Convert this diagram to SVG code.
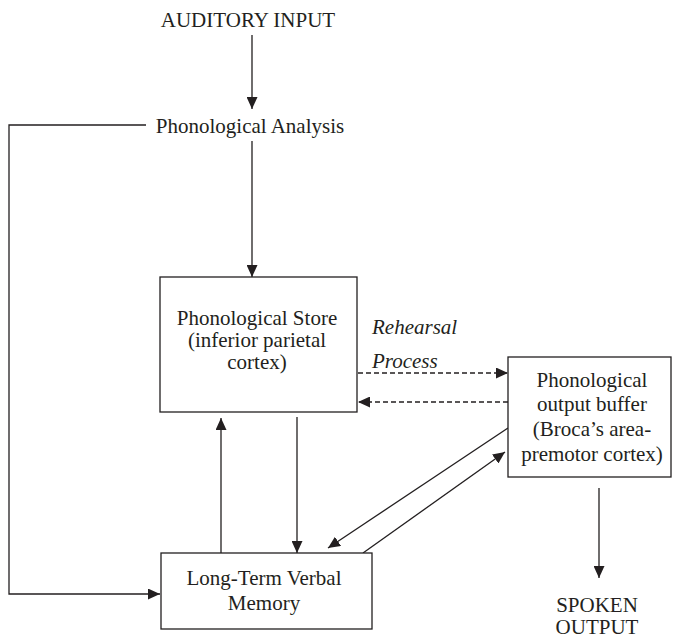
<svg xmlns="http://www.w3.org/2000/svg" width="673" height="639" viewBox="0 0 673 639">
<style>
text{font-family:"Liberation Serif","Times New Roman",serif;font-size:21px;fill:#231f20;text-anchor:middle}
.it{font-style:italic;text-anchor:start}
.box{fill:#fff;stroke:#231f20;stroke-width:1.3}
.ln{fill:none;stroke:#231f20;stroke-width:1.3}
.dash{stroke-dasharray:5 3}
</style>
<defs>
<marker id="ah" markerUnits="userSpaceOnUse" markerWidth="12" markerHeight="11" refX="12" refY="5.5" orient="auto">
<path d="M0,0 L12,5.5 L0,11 z" fill="#231f20"/>
</marker>
</defs>
<rect width="673" height="639" fill="#fff"/>
<g id="connectors">
<line class="ln" x1="252" y1="35" x2="252" y2="109" marker-end="url(#ah)"/>
<line class="ln" x1="252" y1="141" x2="252" y2="277" marker-end="url(#ah)"/>
<polyline class="ln" points="146,125 9,125 9,594 160,594" marker-end="url(#ah)"/>
<line class="ln dash" x1="358" y1="373" x2="508" y2="373" marker-end="url(#ah)"/>
<line class="ln dash" x1="508" y1="402" x2="358" y2="402" marker-end="url(#ah)"/>
<line class="ln" x1="221" y1="553" x2="221" y2="418" marker-end="url(#ah)"/>
<line class="ln" x1="297" y1="417" x2="297" y2="553" marker-end="url(#ah)"/>
<line class="ln" x1="508" y1="428" x2="328" y2="548" marker-end="url(#ah)"/>
<line class="ln" x1="363" y1="553" x2="505" y2="452" marker-end="url(#ah)"/>
<line class="ln" x1="599" y1="488" x2="599" y2="578" marker-end="url(#ah)"/>
</g>
<g id="auditory-input"><text x="248" y="27">AUDITORY INPUT</text></g>
<g id="phonological-analysis"><text x="250" y="133">Phonological Analysis</text></g>
<g id="phonological-store">
<rect class="box" x="160" y="277" width="197" height="135"/>
<text x="257" y="325">Phonological Store</text>
<text x="257" y="347">(inferior parietal</text>
<text x="257" y="369">cortex)</text>
</g>
<g id="rehearsal-label">
<text class="it" x="372" y="334">Rehearsal</text>
<text class="it" x="372" y="368">Process</text>
</g>
<g id="output-buffer">
<rect class="box" x="508" y="357" width="163" height="120"/>
<text x="592" y="387">Phonological</text>
<text x="592" y="411">output buffer</text>
<text x="592" y="436">(Broca’s area-</text>
<text x="592" y="461">premotor cortex)</text>
</g>
<g id="long-term-memory">
<rect class="box" x="161" y="553" width="211" height="76"/>
<text x="264" y="585">Long-Term Verbal</text>
<text x="264" y="610">Memory</text>
</g>
<g id="spoken-output">
<text x="597" y="612">SPOKEN</text>
<text x="597" y="634">OUTPUT</text>
</g>
</svg>
